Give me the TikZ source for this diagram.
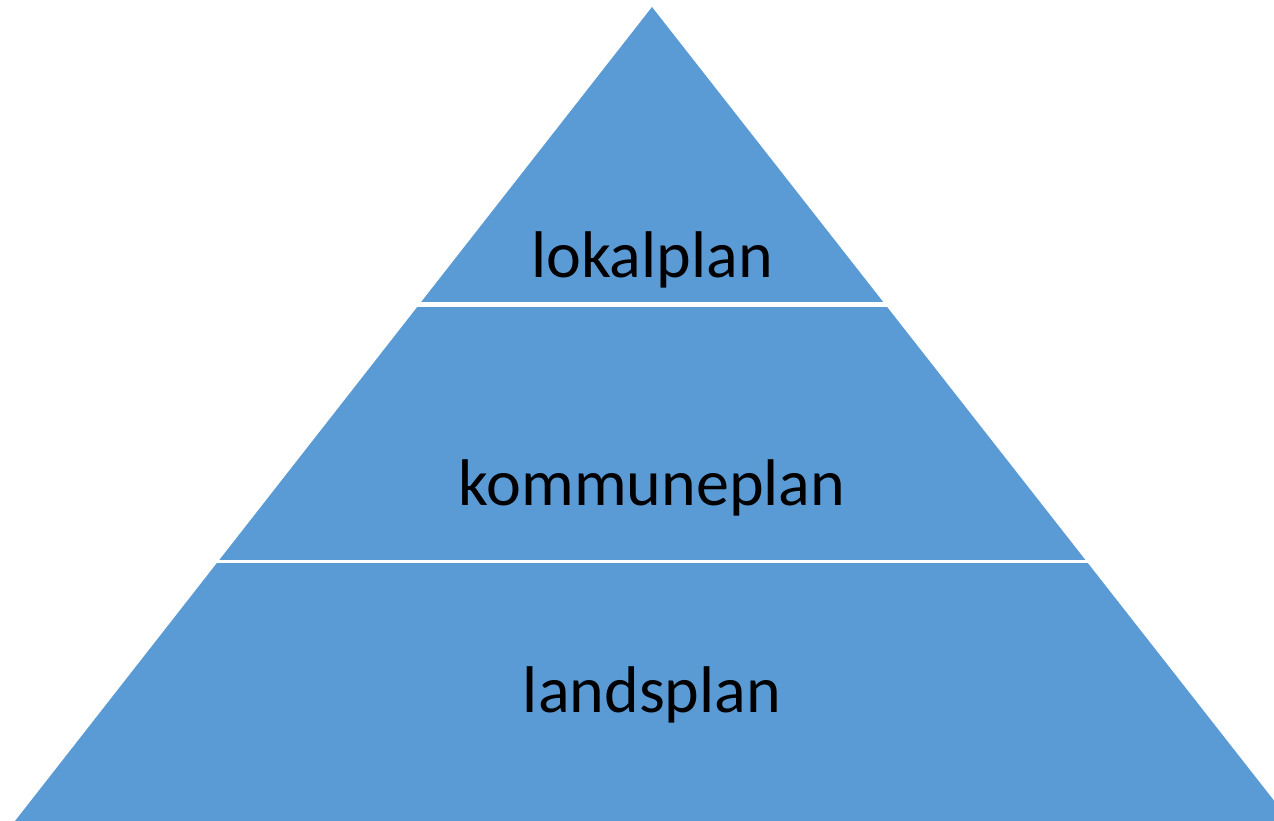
\documentclass[tikz,border=0pt]{standalone}
\usepackage{fontspec}
\setmainfont{Carlito}
\definecolor{pyr}{HTML}{5B9BD5}
\begin{document}
\begin{tikzpicture}[x=1pt,y=-1pt,
  lbl/.style={anchor=base,font=\fontsize{66}{70}\selectfont,text=black,inner sep=0pt},
  gapline/.style={draw=white}]
\useasboundingbox (0,0) rectangle (1274,821);
\clip (0,0) rectangle (1274,821);
\coordinate (apex) at (652,7);
\coordinate (bl) at (15,821);
\coordinate (br) at (1290,821);
\fill[pyr] (apex) -- (br) -- (bl) -- cycle;
\coordinate (g1l) at (400,304.5);
\coordinate (g1r) at (904,304.5);
\coordinate (g2l) at (200,561.5);
\coordinate (g2r) at (1104,561.5);
\draw[gapline,line width=4.5] (g1l) -- (g1r);
\draw[gapline,line width=3] (g2l) -- (g2r);
\node[lbl] (lokal) at (652,277) {lokalplan};
\node[lbl] (kommune) at (652,505) {kommuneplan};
\node[lbl] (lands) at (652,712) {landsplan};
\end{tikzpicture}
\end{document}
